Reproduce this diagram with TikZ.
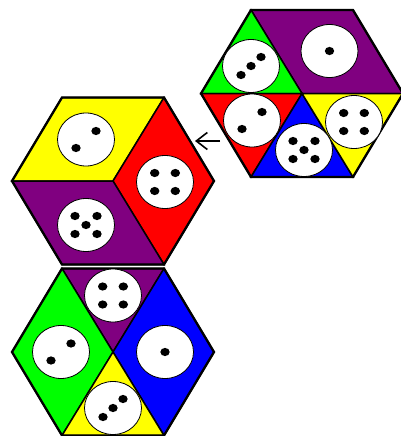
\documentclass[tikz,border=0pt]{standalone}
\usetikzlibrary{shapes.geometric,arrows.meta}
\definecolor{pyellow}{RGB}{255,255,0}
\definecolor{pred}{RGB}{255,0,0}
\definecolor{pgreen}{RGB}{0,255,0}
\definecolor{pblue}{RGB}{0,0,255}
\definecolor{ppurple}{RGB}{128,0,128}
\newcommand\defhex[3]{%
  \coordinate (#1C)  at (#2,#3);
  \coordinate (#1L)  at ({#2-101},#3);
  \coordinate (#1R)  at ({#2+101},#3);
  \coordinate (#1TL) at ({#2-51},{#3-83.5});
  \coordinate (#1TR) at ({#2+51},{#3-83.5});
  \coordinate (#1BL) at ({#2-51},{#3+83.5});
  \coordinate (#1BR) at ({#2+51},{#3+83.5});
}
\newcommand\pipd[2]{\fill (#1,#2) ellipse (4.7 and 4.1);}
\tikzset{
  piece/.style={draw=black, line width=1.5pt, line join=miter},
  hexrim/.style={draw=black, line width=2.3pt, line join=miter},
  face/.style={ellipse, draw=black, line width=0.8pt, fill=white, minimum width=57pt, minimum height=53pt, inner sep=0pt},
  pips1/.pic={\pipd{0}{0}},
  pips2/.pic={\pipd{10}{-8.5}\pipd{-10}{8.5}},
  pips3/.pic={\pipd{-10}{9}\pipd{0}{0}\pipd{10}{-9}},
  pips4/.pic={\pipd{-10.3}{-9}\pipd{10.3}{-9}\pipd{-10.3}{9}\pipd{10.3}{9}},
  pips5/.pic={\pipd{-11}{-9}\pipd{11}{-9}\pipd{0}{0}\pipd{-11}{9}\pipd{11}{9}},
  arrowline/.style={draw=black, line width=1.6pt, -{Straight Barb[length=11pt, width=17pt]}}
}
\begin{document}
\begin{tikzpicture}[x=1pt,y=-1pt]
\useasboundingbox (0,0) rectangle (401,436);
\fill[white] (0,0) rectangle (401,436);
% ---------- top-right hexagon ----------
\defhex{a}{302}{93.5}
\filldraw[piece, fill=ppurple] (aTL) -- (aTR) -- (aR) -- (aC) -- cycle;
\filldraw[piece, fill=pgreen]  (aTL) -- (aL) -- (aC) -- cycle;
\filldraw[piece, fill=pred]    (aL) -- (aC) -- (aBL) -- cycle;
\filldraw[piece, fill=pblue]   (aC) -- (aBL) -- (aBR) -- cycle;
\filldraw[piece, fill=pyellow] (aC) -- (aBR) -- (aR) -- cycle;
\draw[hexrim] (aTL) -- (aTR) -- (aR) -- (aBR) -- (aBL) -- (aL) -- cycle;
\node[face] (aP) at (329.5,51) {};   \pic at (aP) {pips1};
\node[face] (aG) at (251,66) {};     \pic at (aG) {pips3};
\node[face] (aRd) at (252,120.5) {}; \pic at (aRd) {pips2};
\node[face] (aB) at (304,150) {};    \pic at (aB) {pips5};
\node[face] (aY) at (354,122) {};    \pic at (aY) {pips4};
% ---------- cube hexagon ----------
\defhex{b}{113}{181}
\filldraw[piece, fill=pyellow] (bTL) -- (bTR) -- (bC) -- (bL) -- cycle;
\filldraw[piece, fill=pred]    (bTR) -- (bR) -- (bBR) -- (bC) -- cycle;
\filldraw[piece, fill=ppurple] (bL) -- (bC) -- (bBR) -- (bBL) -- cycle;
\draw[hexrim] (bTL) -- (bTR) -- (bR) -- (bBR) -- (bBL) -- (bL) -- cycle;
\node[face] (bY) at (86,139.5) {};  \pic at (bY) {pips2};
\node[face] (bRd) at (165,182) {};  \pic at (bRd) {pips4};
\node[face] (bP) at (86,225) {};    \pic at (bP) {pips5};
% ---------- bottom hexagon ----------
\defhex{c}{113}{352}
\filldraw[piece, fill=ppurple] (cTL) -- (cTR) -- (cC) -- cycle;
\filldraw[piece, fill=pgreen]  (cTL) -- (cL) -- (cBL) -- (cC) -- cycle;
\filldraw[piece, fill=pblue]   (cTR) -- (cR) -- (cBR) -- (cC) -- cycle;
\filldraw[piece, fill=pyellow] (cC) -- (cBL) -- (cBR) -- cycle;
\draw[hexrim] (cTL) -- (cTR) -- (cR) -- (cBR) -- (cBL) -- (cL) -- cycle;
\node[face] (cP) at (113,295.5) {}; \pic at (cP) {pips4};
\node[face] (cG) at (61,352) {};    \pic at (cG) {pips2};
\node[face] (cB) at (165,352) {};   \pic at (cB) {pips1};
\node[face] (cY) at (113,408) {};   \pic at (cY) {pips3};
% ---------- arrow ----------
\coordinate (arrTail) at (220,141);
\coordinate (arrTip) at (195,141);
\draw[arrowline] (arrTail) -- (arrTip);
\end{tikzpicture}
\end{document}
